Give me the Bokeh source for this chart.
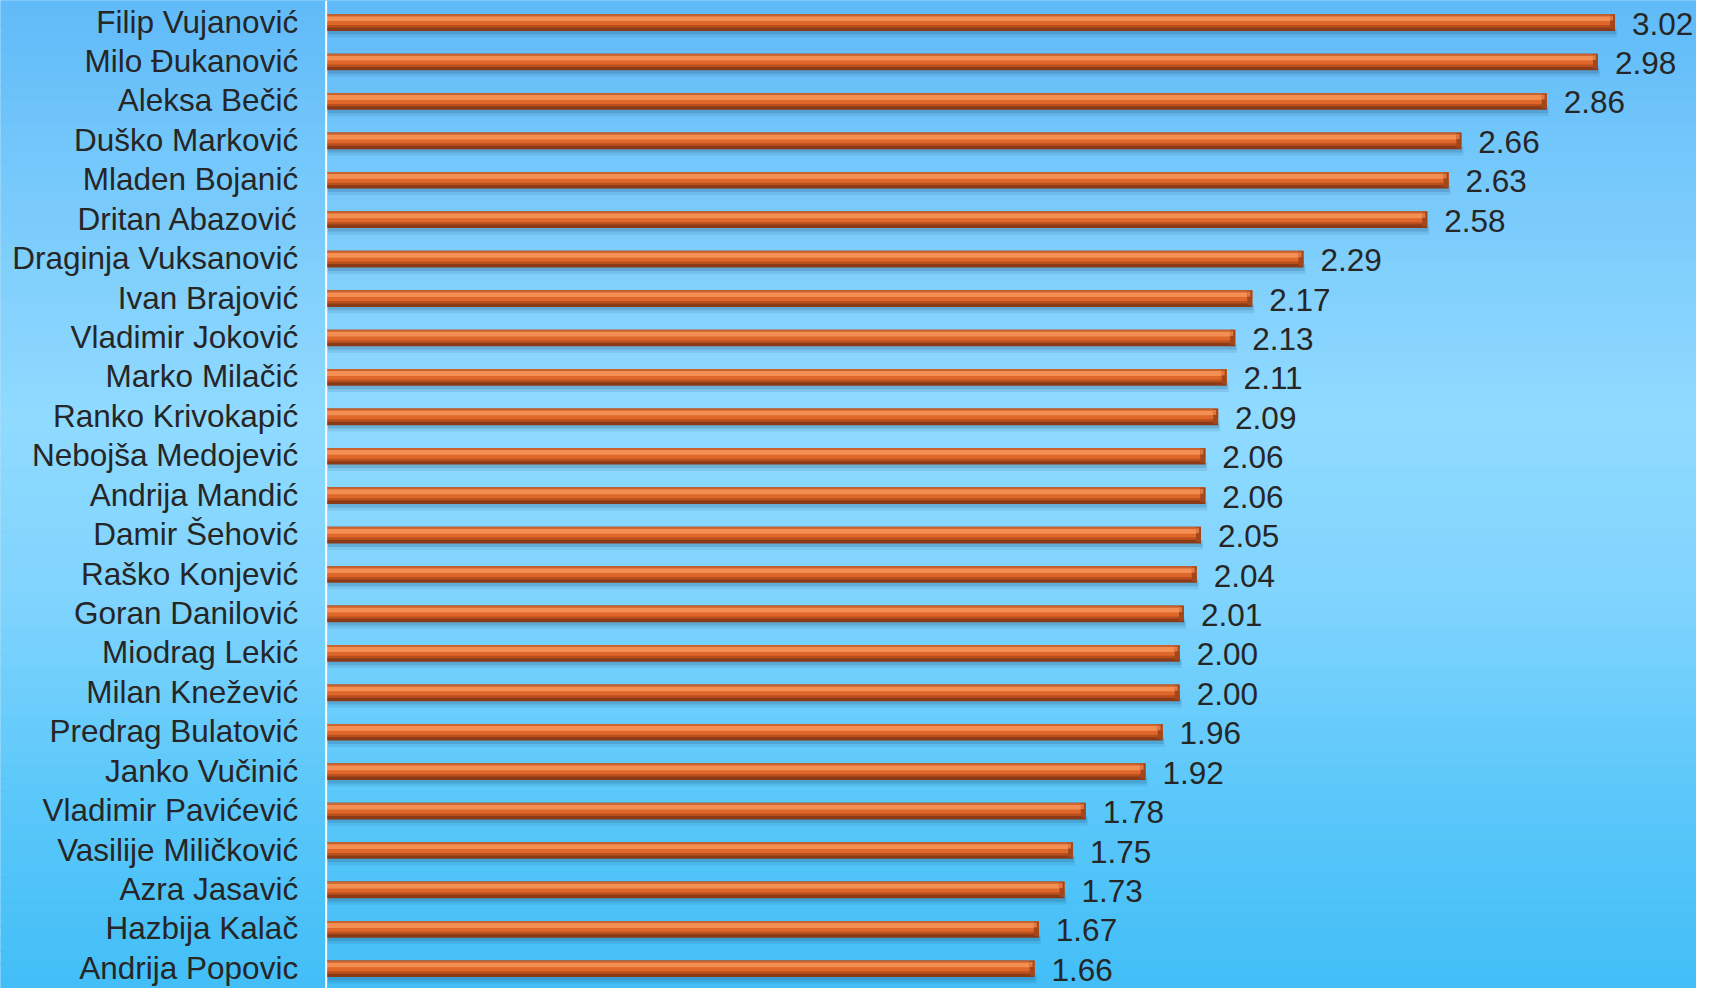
import numpy as np
from bokeh.plotting import figure
from bokeh.models import ColumnDataSource, Range1d, Span
from bokeh.transform import dodge
from bokeh.core.properties import value
from bokeh.embed import file_html
from bokeh.resources import INLINE

# ---- data ----
names = ["Filip Vujanović", "Milo Đukanović", "Aleksa Bečić", "Duško Marković",
         "Mladen Bojanić", "Dritan Abazović", "Draginja Vuksanović", "Ivan Brajović",
         "Vladimir Joković", "Marko Milačić", "Ranko Krivokapić", "Nebojša Medojević",
         "Andrija Mandić", "Damir Šehović", "Raško Konjević", "Goran Danilović",
         "Miodrag Lekić", "Milan Knežević", "Predrag Bulatović", "Janko Vučinić",
         "Vladimir Pavićević", "Vasilije Miličković", "Azra Jasavić", "Hazbija Kalač",
         "Andrija Popovic"]
values = [3.02, 2.98, 2.86, 2.66, 2.63, 2.58, 2.29, 2.17, 2.13, 2.11, 2.09, 2.06,
          2.06, 2.05, 2.04, 2.01, 2.00, 2.00, 1.96, 1.92, 1.78, 1.75, 1.73, 1.67, 1.66]
value_labels = ["%.2f" % v for v in values]

W, H = 1696, 988
src = ColumnDataSource(dict(idx=list(range(len(names))), name=names,
                            val=values, lab=value_labels))

X0, X1 = -0.763, 3.211
Y_TOP, Y_BOT = -0.56, 24.5
p = figure(width=W, height=H, output_backend="svg", toolbar_location=None,
           x_range=Range1d(X0, X1), y_range=Range1d(Y_BOT, Y_TOP),
           min_border=0, outline_line_color=None)
p.axis.visible = False
p.grid.visible = False
p.background_fill_color = "#6fc6fa"
p.border_fill_color = "#6fc6fa"

# ---- background gradient (style) ----
stops_pos = [0.0, 0.2, 0.42, 0.6, 0.8, 1.0]
stops_col = [(0x60, 0xBB, 0xF8), (0x78, 0xCA, 0xFB), (0x90, 0xDA, 0xFF),
             (0x80, 0xD4, 0xFD), (0x5C, 0xC8, 0xFA), (0x42, 0xBE, 0xF7)]
nb = 80
edges = np.linspace(Y_TOP, Y_BOT, nb + 1)
mids = (np.arange(nb) + 0.5) / nb
cols = []
for t in mids:
    rgb = [int(round(np.interp(t, stops_pos, [c[k] for c in stops_col]))) for k in range(3)]
    cols.append("#%02x%02x%02x" % tuple(rgb))
p.quad(left=X0 - 1, right=X1 + 1, top=edges[:-1], bottom=edges[1:],
       fill_color=cols, line_color=cols, line_width=1)

px = 1.0 / 40.2      # one pixel in row units
pxx = 1.0 / 431.0    # one pixel in value units

# ---- bar shadow ----
p.hbar(y=dodge("idx", 10 * px), left=0.004, right=dodge("val", 2 * pxx), height=10 * px,
       source=src, fill_color="#1d4f7a", fill_alpha=0.12, line_color=None)
p.hbar(y=dodge("idx", 9.5 * px), left=0.004, right=dodge("val", 1 * pxx), height=5 * px,
       source=src, fill_color="#1d4f7a", fill_alpha=0.2, line_color=None)

# ---- bar body layers ----
p.hbar(y="idx", left=0.002, right="val", height=17 * px, source=src,
       fill_color="#8a3a17", line_color=None)
p.hbar(y=dodge("idx", -1.5 * px), left=0.002, right="val", height=13 * px, source=src,
       fill_color="#b84f1d", line_color=None)
p.hbar(y=dodge("idx", -2.5 * px), left=0.002, right="val", height=10 * px, source=src,
       fill_color="#df672a", line_color=None)
p.hbar(y=dodge("idx", -4 * px), left=0.002, right="val", height=5 * px, source=src,
       fill_color="#f48f54", line_color=None)
p.hbar(y=dodge("idx", -7.5 * px), left=0.002, right="val", height=2 * px, source=src,
       fill_color="#c8622f", line_color=None)
# right-end bevel
p.hbar(y=dodge("idx", -0.5 * px), left=dodge("val", -5 * pxx), right="val",
       height=15 * px, source=src, fill_color="#a4461b", line_color=None)
p.hbar(y=dodge("idx", -4.5 * px), left=dodge("val", -5 * pxx), right=dodge("val", -2 * pxx),
       height=5 * px, source=src, fill_color="#e07a45", line_color=None)

# ---- axis line ----
p.add_layout(Span(location=0, dimension="height", line_color="#f4faff", line_width=2))

# ---- labels ----
p.text(x=0, y="idx", text="name", source=src, x_offset=-28, y_offset=-1,
       text_align="right", text_baseline="middle", text_color="#262626",
       text_font=value("Liberation Sans"), text_font_size="31.5px")
p.text(x="val", y="idx", text="lab", source=src, x_offset=17, y_offset=1,
       text_align="left", text_baseline="middle", text_color="#262626",
       text_font=value("Liberation Sans"), text_font_size="31.5px")

open("out.html", "w").write(file_html(p, INLINE))
